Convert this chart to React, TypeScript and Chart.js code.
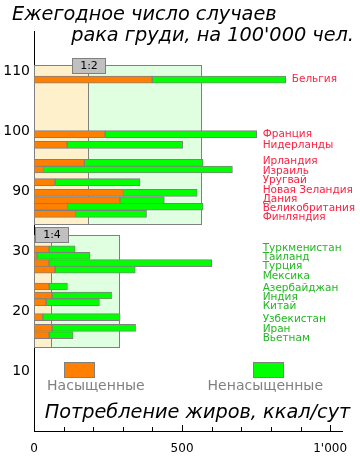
import React, { useEffect, useRef } from 'react';
import { Chart, registerables } from 'chart.js';
Chart.register(...registerables);

// Upper block (high incidence) – drawn on a broken axis, shifted down by UPPER_SHIFT
const upperCountries = ['Бельгия', 'Франция', 'Нидерланды', 'Ирландия', 'Израиль', 'Уругвай', 'Новая Зеландия', 'Дания', 'Великобритания', 'Финляндия'];
const upperIncidence = [108.6, 99.5, 97.7, 94.7, 93.6, 91.5, 89.7, 88.5, 87.4, 86.2];
const upperSaturated = [399, 240, 112, 170, 32, 71, 302, 290, 113, 140];
const upperUnsaturated = [451, 512, 390, 401, 638, 287, 249, 150, 458, 240];

// Lower block (low incidence)
const lowerCountries = ['Туркменистан', 'Таиланд', 'Турция', 'Мексика', 'Азербайджан', 'Индия', 'Китай', 'Узбекистан', 'Иран', 'Вьетнам'];
const lowerIncidence = [30.3, 29.2, 28.0, 26.9, 24.1, 22.6, 21.5, 19.0, 17.2, 16.0];
const lowerSaturated = [51, 10, 51, 71, 51, 61, 41, 30, 61, 51];
const lowerUnsaturated = [88, 179, 549, 271, 62, 201, 180, 261, 282, 81];

const UPPER_SHIFT = 50;
const yTickValues = [10, 20, 30, 40, 50, 60];
const yTickLabels = ['10', '20', '30', '90', '100', '110'];
const xTickValues = [0, 500, 1000];
const xTickLabels = ['0', '500', "1'000"];

// Ratio panels (saturated : unsaturated)
const panelLabels = ['1:2', '1:4'];
const panelSaturated = [183, 57.5];
const panelTotal = [565, 287];
const panelTop = [111, 32.7];
const panelBottom = [84.5, 14.0];
const panelShift = [UPPER_SHIFT, 0];

const legendLabels = ['Насыщенные', 'Ненасыщенные'];
const titleLines = ['Ежегодное число случаев', "рака груди, на 100'000 чел."];
const xTitle = 'Потребление жиров, ккал/сут';

const FONT = '"DejaVu Sans", Verdana, sans-serif';
const ORANGE = '#ff8000';
const GREEN = '#00ff00';
const GRAY = '#808080';

function spread(ys: number[], gap: number): number[] {
  const order = ys.map((_, i) => i).sort((a, b) => ys[a] - ys[b]);
  type Cl = { items: number[]; sum: number };
  const clusters: Cl[] = [];
  const mean = (c: Cl) => c.sum / c.items.length;
  for (const i of order) {
    clusters.push({ items: [i], sum: ys[i] });
    while (clusters.length > 1) {
      const a = clusters[clusters.length - 2];
      const b = clusters[clusters.length - 1];
      const aEnd = mean(a) + ((a.items.length - 1) * gap) / 2;
      const bStart = mean(b) - ((b.items.length - 1) * gap) / 2;
      if (bStart - aEnd < gap) {
        clusters.pop();
        clusters.pop();
        clusters.push({ items: a.items.concat(b.items), sum: a.sum + b.sum });
      } else break;
    }
  }
  const out = new Array(ys.length).fill(0);
  for (const c of clusters) {
    const m = mean(c);
    const start = m - ((c.items.length - 1) * gap) / 2;
    c.items.forEach((it, k) => (out[it] = start + k * gap));
  }
  return out;
}

const decorPlugin = {
  id: 'decor',
  beforeDatasetsDraw(chart: any) {
    const { ctx, scales } = chart;
    const x = scales.x;
    const y = scales.y;
    ctx.save();
    for (let p = 0; p < panelLabels.length; p++) {
      const top = Math.round(y.getPixelForValue(panelTop[p] - panelShift[p])) + 0.5;
      const bot = Math.round(y.getPixelForValue(panelBottom[p] - panelShift[p])) + 0.5;
      const x0 = Math.round(x.getPixelForValue(0)) + 0.5;
      const xs = Math.round(x.getPixelForValue(panelSaturated[p])) + 0.5;
      const xt = Math.round(x.getPixelForValue(panelTotal[p])) + 0.5;
      ctx.fillStyle = '#fff0cc';
      ctx.fillRect(x0, top, xs - x0, bot - top);
      ctx.fillStyle = '#e0ffe0';
      ctx.fillRect(xs, top, xt - xs, bot - top);
      ctx.strokeStyle = GRAY;
      ctx.lineWidth = 1;
      ctx.strokeRect(x0, top, xs - x0, bot - top);
      ctx.strokeRect(xs, top, xt - xs, bot - top);
    }
    ctx.restore();
  },
  afterDatasetsDraw(chart: any) {
    const { ctx, scales, chartArea } = chart;
    const x = scales.x;
    const y = scales.y;
    ctx.save();
    // ratio boxes
    for (let p = 0; p < panelLabels.length; p++) {
      const top = y.getPixelForValue(panelTop[p] - panelShift[p]);
      const xs = x.getPixelForValue(panelSaturated[p]);
      const w = 33, h = 15;
      const bx = Math.round(xs - w / 2) + 0.5;
      const by = Math.round(top - h / 2) + 0.5;
      ctx.fillStyle = '#c0c0c0';
      ctx.fillRect(bx, by, w, h);
      ctx.strokeStyle = GRAY;
      ctx.lineWidth = 1;
      ctx.strokeRect(bx, by, w, h);
      ctx.fillStyle = '#000';
      ctx.font = `11px ${FONT}`;
      ctx.textAlign = 'center';
      ctx.textBaseline = 'middle';
      ctx.fillText(panelLabels[p], bx + w / 2, by + h / 2 + 0.5);
    }
    // country labels
    const groups = [
      { names: upperCountries, inc: upperIncidence, sat: upperSaturated, uns: upperUnsaturated, shift: UPPER_SHIFT, color: '#ff2040', dy: 0 },
      { names: lowerCountries, inc: lowerIncidence, sat: lowerSaturated, uns: lowerUnsaturated, shift: 0, color: '#22b822', dy: 2.5 },
    ];
    ctx.font = `10.5px ${FONT}`;
    ctx.textAlign = 'left';
    ctx.textBaseline = 'middle';
    for (const g of groups) {
      const ys = g.inc.map((v) => y.getPixelForValue(v - g.shift));
      const placed = spread(ys, 9.3);
      ctx.fillStyle = g.color;
      g.names.forEach((n, i) => {
        const end = x.getPixelForValue(g.sat[i] + g.uns[i]) + 6;
        const lx = Math.max(x.getPixelForValue(772), end);
        ctx.fillText(n, lx, placed[i] + g.dy);
      });
    }
    // legend
    const legendX = [[101, 201], [740, 840]];
    const legendTextX = [209, 781];
    const colors = [ORANGE, GREEN];
    for (let k = 0; k < 2; k++) {
      const x1 = Math.round(x.getPixelForValue(legendX[k][0])) + 0.5;
      const x2 = Math.round(x.getPixelForValue(legendX[k][1])) + 0.5;
      const y1 = Math.round(y.getPixelForValue(11.5)) + 0.5;
      const y2 = Math.round(y.getPixelForValue(9.0)) + 0.5;
      ctx.fillStyle = colors[k];
      ctx.fillRect(x1, y1, x2 - x1, y2 - y1);
      ctx.strokeStyle = GRAY;
      ctx.strokeRect(x1, y1, x2 - x1, y2 - y1);
      ctx.fillStyle = GRAY;
      ctx.font = `14px ${FONT}`;
      ctx.textAlign = 'center';
      ctx.textBaseline = 'middle';
      ctx.fillText(legendLabels[k], x.getPixelForValue(legendTextX[k]), y.getPixelForValue(7.4));
    }
    // x-axis title
    ctx.fillStyle = '#000';
    ctx.font = `italic 19.3px ${FONT}`;
    ctx.textAlign = 'center';
    ctx.textBaseline = 'middle';
    ctx.fillText(xTitle, 197.5, 413);
    // chart title
    ctx.textAlign = 'left';
    ctx.fillText(titleLines[0], 12, 15);
    ctx.textAlign = 'right';
    ctx.fillText(titleLines[1], 354, 36);
    // inward x ticks
    ctx.strokeStyle = '#000';
    ctx.lineWidth = 1;
    for (let v = 100; v <= 1000; v += 100) {
      const px = Math.round(x.getPixelForValue(v)) + 0.5;
      const len = v % 500 === 0 ? 6 : 4;
      ctx.beginPath();
      ctx.moveTo(px, chartArea.bottom);
      ctx.lineTo(px, chartArea.bottom - len);
      ctx.stroke();
    }
    ctx.restore();
  },
};

export default function App() {
  const ref = useRef<HTMLCanvasElement>(null);
  useEffect(() => {
    document.body.style.margin = '0';
    const satData = [
      ...upperCountries.map((_, i) => ({ y: upperIncidence[i] - UPPER_SHIFT, x: [0, upperSaturated[i]] })),
      ...lowerCountries.map((_, i) => ({ y: lowerIncidence[i], x: [0, lowerSaturated[i]] })),
    ];
    const unsData = [
      ...upperCountries.map((_, i) => ({ y: upperIncidence[i] - UPPER_SHIFT, x: [upperSaturated[i], upperSaturated[i] + upperUnsaturated[i]] })),
      ...lowerCountries.map((_, i) => ({ y: lowerIncidence[i], x: [lowerSaturated[i], lowerSaturated[i] + lowerUnsaturated[i]] })),
    ];
    const chart = new Chart(ref.current as HTMLCanvasElement, {
      type: 'bar',
      data: {
        datasets: [
          { label: legendLabels[0], data: satData as any, backgroundColor: ORANGE, borderColor: GRAY, borderWidth: 1, borderSkipped: false, barThickness: 7, grouped: false } as any,
          { label: legendLabels[1], data: unsData as any, backgroundColor: GREEN, borderColor: GRAY, borderWidth: 1, borderSkipped: false, barThickness: 7, grouped: false } as any,
        ],
      },
      options: {
        indexAxis: 'y',
        responsive: false,
        animation: false,
        layout: { padding: { top: 31, right: 18, left: 0, bottom: 0 } },
        plugins: { legend: { display: false }, tooltip: { enabled: false }, title: { display: false } },
        scales: {
          y: {
            type: 'linear',
            offset: false,
            min: 0,
            max: 66.7,
            grid: { display: false, drawTicks: false, offset: false },
            border: { display: true, color: '#000', width: 1 },
            afterFit: (s: any) => { s.width = 34; },
            afterBuildTicks: (s: any) => {
              s.ticks = [0, ...yTickValues].map((v) => ({ value: v }));
            },
            ticks: {
              padding: 4,
              color: '#000',
              font: { family: FONT, size: 14 },
              callback: (v: any) => {
                const i = yTickValues.indexOf(Number(v));
                return i >= 0 ? yTickLabels[i] : '';
              },
            },
          },
          x: {
            type: 'linear',
            offset: false,
            min: 0,
            max: 1040,
            grid: { display: false, drawTicks: false },
            border: { display: true, color: '#000', width: 1 },
            afterFit: (s: any) => { s.height = 29; },
            afterBuildTicks: (s: any) => {
              const t: any[] = [];
              for (let v = 0; v <= 1000; v += 100) t.push({ value: v });
              s.ticks = t;
            },
            ticks: {
              padding: 11,
              autoSkip: false,
              maxRotation: 0,
              color: '#000',
              font: { family: FONT, size: 12 },
              callback: (v: any) => {
                const i = xTickValues.indexOf(Number(v));
                return i >= 0 ? xTickLabels[i] : '';
              },
            },
          },
        },
      },
      plugins: [decorPlugin],
    } as any);
    return () => chart.destroy();
  }, []);
  return (
    <div style={{ width: 360, height: 460 }}>
      <canvas ref={ref} width={360} height={460} style={{ display: 'block' }} />
    </div>
  );
}
